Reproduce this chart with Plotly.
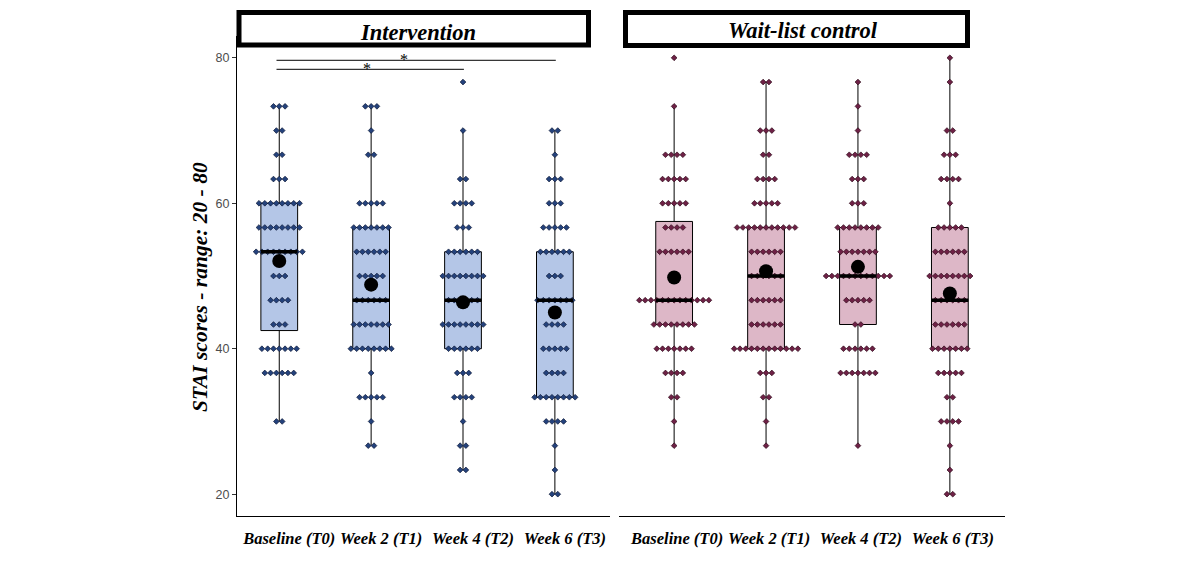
import numpy as np
import plotly.graph_objects as go

# ---------------- data ----------------
timepoints = ["Baseline (T0)", "Week 2 (T1)", "Week 4 (T2)", "Week 6 (T3)"]
groups = ["Intervention", "Wait-list control"]

# possible STAI score levels (range 20 - 80)
score_levels = [20.00, 23.33, 26.67, 30.00, 33.33, 36.67, 40.00, 43.33, 46.67, 50.00,
                53.33, 56.67, 60.00, 63.33, 66.67, 70.00, 73.33, 76.67, 80.00]

# number of participants at each score level (read from the dot stacks)
intervention_t0 = [0, 0, 0, 2, 0, 6, 7, 3, 4, 3, 9, 8, 8, 3, 2, 2, 3, 0, 0]
intervention_t1 = [0, 0, 2, 1, 5, 1, 8, 7, 6, 5, 6, 7, 5, 0, 2, 1, 3, 0, 0]
intervention_t2 = [0, 2, 2, 1, 4, 3, 6, 8, 6, 8, 6, 3, 4, 2, 0, 1, 0, 1, 0]
intervention_t3 = [2, 1, 1, 4, 8, 4, 5, 4, 7, 3, 6, 5, 3, 3, 1, 2, 0, 0, 0]

waitlist_t0 = [0, 0, 1, 1, 2, 4, 7, 8, 13, 2, 6, 4, 5, 5, 4, 0, 1, 0, 1]
waitlist_t1 = [0, 0, 1, 1, 2, 3, 12, 6, 6, 6, 6, 11, 5, 4, 2, 3, 0, 2, 0]
waitlist_t2 = [0, 0, 1, 0, 0, 7, 6, 2, 5, 12, 7, 8, 3, 3, 4, 1, 1, 1, 0]
waitlist_t3 = [2, 1, 1, 4, 2, 5, 7, 6, 6, 8, 6, 5, 1, 4, 3, 2, 0, 1, 1]

y_ticks = [20, 40, 60, 80]

# significance brackets (intervention panel): from timepoint, to timepoint, height
sig_from = [0, 0]
sig_to = [3, 2]
sig_y = [79.66, 78.42]
sig_star_x = [1.36, 0.96]

# ---------------- styling ----------------
box_fill = ["#B4C6E7", "#DDB7C7"]
dot_fill = ["#24427C", "#6E2146"]
dot_line = ["#0A1633", "#2B0616"]
serif = "Liberation Serif"
sans = "Liberation Sans"
dot_step = 0.063
box_w = 0.4

counts = [[intervention_t0, intervention_t1, intervention_t2, intervention_t3],
          [waitlist_t0, waitlist_t1, waitlist_t2, waitlist_t3]]

fig = go.Figure()
levels = np.array(score_levels)

for g in range(2):
    xa = "x" if g == 0 else "x2"
    ya = "y" if g == 0 else "y2"
    med_traces = []
    mean_x, mean_y = [], []
    dots_x, dots_y = [], []
    for t in range(4):
        c = np.array(counts[g][t])
        vals = np.repeat(levels, c)
        q1, med, q3 = np.percentile(vals, [25, 50, 75])
        iqr = q3 - q1
        lf = vals[vals >= q1 - 1.5 * iqr].min()
        uf = vals[vals <= q3 + 1.5 * iqr].max()
        fig.add_trace(go.Box(
            x=[t], q1=[q1], median=[med], q3=[q3], lowerfence=[lf], upperfence=[uf],
            width=box_w, whiskerwidth=0, boxpoints=False,
            fillcolor=box_fill[g], line=dict(color="black", width=1),
            xaxis=xa, yaxis=ya, hoverinfo="skip"))
        for lv, n in zip(levels, c):
            if n > 0:
                offs = (np.arange(n) - (n - 1) / 2.0) * dot_step
                dots_x.extend(list(t + offs))
                dots_y.extend([lv] * n)
        med_traces.append(([t - box_w / 2, t + box_w / 2], [med, med]))
        mean_x.append(t)
        mean_y.append(vals.mean())
    fig.add_trace(go.Scatter(
        x=dots_x, y=dots_y, mode="markers",
        marker=dict(symbol="diamond", size=4.4, color=dot_fill[g],
                    line=dict(color=dot_line[g], width=0.7)),
        xaxis=xa, yaxis=ya, hoverinfo="skip"))
    for mx, my in med_traces:
        fig.add_trace(go.Scatter(
            x=mx, y=my, mode="lines", line=dict(color="black", width=3.5),
            xaxis=xa, yaxis=ya, hoverinfo="skip"))
    fig.add_trace(go.Scatter(
        x=mean_x, y=mean_y, mode="markers",
        marker=dict(symbol="circle", size=14, color="black"),
        xaxis=xa, yaxis=ya, hoverinfo="skip"))

W, H = 1200, 567
ydom = [1 - 516 / H, 1 - 36 / H]

shapes = []
annotations = []
for a, b, yv, sx in zip(sig_from, sig_to, sig_y, sig_star_x):
    shapes.append(dict(type="line", xref="x", yref="y", x0=a - 0.03, x1=b + 0.01,
                       y0=yv, y1=yv, line=dict(color="black", width=1)))
    annotations.append(dict(text="*", xref="x", yref="y", x=sx, y=yv, showarrow=False,
                            xanchor="center", yanchor="middle", yshift=1,
                            font=dict(family=serif, size=16, color="#000000")))

# strip boxes
strip_px = [(239, 588.5, 12.5, 45), (625.5, 967.5, 12.5, 45.5)]
strip_txt_px = [(417.7, 32.5), (803, 30)]
for (x0, x1, y0, y1), (tx, ty), lab in zip(strip_px, strip_txt_px, groups):
    shapes.append(dict(type="rect", xref="paper", yref="paper",
                       x0=x0 / W, x1=x1 / W, y0=1 - y1 / H, y1=1 - y0 / H,
                       line=dict(color="black", width=5), fillcolor="white", layer="above"))
    annotations.append(dict(text=lab, xref="paper", yref="paper", x=tx / W, y=1 - ty / H,
                            showarrow=False, xanchor="center", yanchor="middle",
                            font=dict(family=serif, size=22.5, color="black", style="italic",
                                      weight="bold")))

annotations.append(dict(text="STAI scores - range: 20 - 80", xref="paper", yref="paper",
                        x=200 / W, y=1 - 287 / H, textangle=-90, showarrow=False,
                        xanchor="center", yanchor="middle",
                        font=dict(family=serif, size=21.5, color="black", style="italic",
                                  weight="bold")))

xtickfont = dict(family=serif, size=16.5, color="black", style="italic", weight="bold")
common_x = dict(tickvals=[0, 1, 2, 3], ticktext=timepoints, showline=True, linecolor="black",
                linewidth=1, ticks="", showgrid=False, zeroline=False, tickfont=xtickfont,
                ticklabelstandoff=7)

fig.update_layout(
    width=W, height=H, autosize=False,
    margin=dict(l=0, r=0, t=0, b=0),
    paper_bgcolor="white", plot_bgcolor="white",
    showlegend=False,
    xaxis=dict(domain=[237 / W, 610 / W], range=[-0.46, 3.6], ticklabelshift=10, **common_x),
    xaxis2=dict(domain=[619 / W, 1005 / W], range=[-0.6, 3.6], ticklabelshift=3, **common_x),
    yaxis=dict(domain=ydom, range=[17, 83], tickvals=y_ticks, ticks="outside", ticklen=4,
               tickcolor="#333333", showline=True, linecolor="black", linewidth=1,
               showgrid=False, zeroline=False,
               tickfont=dict(family=sans, size=12.5, color="#4D4D4D")),
    yaxis2=dict(domain=ydom, range=[17, 83], matches="y", anchor="x2", showticklabels=False,
                ticks="", showline=False, showgrid=False, zeroline=False),
    shapes=shapes, annotations=annotations,
)
fig.update_layout(xaxis2=dict(anchor="y2"))

fig.write_html("out.html", config={"displayModeBar": False},
               post_script="document.body.style.margin='0px';document.body.style.padding='0px';")
